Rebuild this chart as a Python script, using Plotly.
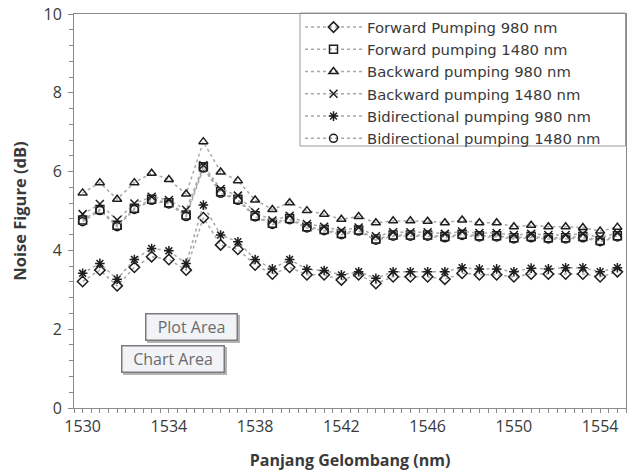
import plotly.graph_objects as go

# Wavelength grid (nm)
wavelength_nm = [1530.0, 1530.8, 1531.6, 1532.4, 1533.2, 1534.0, 1534.8, 1535.6,
                 1536.4, 1537.2, 1538.0, 1538.8, 1539.6, 1540.4, 1541.2, 1542.0,
                 1542.8, 1543.6, 1544.4, 1545.2, 1546.0, 1546.8, 1547.6, 1548.4,
                 1549.2, 1550.0, 1550.8, 1551.6, 1552.4, 1553.2, 1554.0, 1554.8]

# Noise figure (dB) per pumping configuration
fwd_980 = [3.21, 3.50, 3.10, 3.57, 3.84, 3.77, 3.50, 4.83, 4.14, 4.03, 3.63, 3.40,
           3.57, 3.38, 3.38, 3.25, 3.38, 3.16, 3.33, 3.33, 3.33, 3.27, 3.42, 3.38,
           3.38, 3.33, 3.40, 3.40, 3.40, 3.40, 3.33, 3.46]
fwd_1480 = [4.77, 5.04, 4.64, 5.07, 5.30, 5.21, 4.90, 6.12, 5.49, 5.30, 4.88, 4.69,
            4.81, 4.60, 4.53, 4.43, 4.52, 4.29, 4.39, 4.39, 4.39, 4.35, 4.41, 4.37,
            4.37, 4.32, 4.35, 4.32, 4.32, 4.35, 4.25, 4.37]
bwd_980 = [5.46, 5.72, 5.30, 5.72, 5.96, 5.80, 5.43, 6.76, 5.99, 5.77, 5.28, 5.04,
           5.21, 5.01, 4.92, 4.79, 4.86, 4.70, 4.75, 4.75, 4.74, 4.70, 4.77, 4.70,
           4.70, 4.60, 4.64, 4.60, 4.60, 4.58, 4.49, 4.59]
bwd_1480 = [4.92, 5.18, 4.77, 5.19, 5.36, 5.28, 5.03, 6.16, 5.56, 5.39, 4.97, 4.76,
            4.88, 4.67, 4.60, 4.50, 4.58, 4.36, 4.46, 4.46, 4.46, 4.42, 4.48, 4.44,
            4.44, 4.39, 4.42, 4.39, 4.39, 4.42, 4.32, 4.44]
bidir_980 = [3.42, 3.67, 3.27, 3.77, 4.05, 3.99, 3.67, 5.15, 4.39, 4.22, 3.77, 3.53,
             3.77, 3.52, 3.49, 3.38, 3.46, 3.29, 3.46, 3.46, 3.46, 3.46, 3.56, 3.53,
             3.53, 3.46, 3.55, 3.53, 3.56, 3.56, 3.46, 3.56]
bidir_1480 = [4.73, 5.01, 4.60, 5.04, 5.27, 5.18, 4.86, 6.09, 5.45, 5.27, 4.85, 4.66,
              4.78, 4.57, 4.50, 4.40, 4.49, 4.26, 4.36, 4.36, 4.36, 4.32, 4.38, 4.34,
              4.34, 4.29, 4.32, 4.29, 4.29, 4.32, 4.22, 4.34]

series_names = ["Forward Pumping 980 nm", "Forward pumping 1480 nm",
                "Backward pumping 980 nm", "Backward pumping 1480 nm",
                "Bidirectional pumping 980 nm", "Bidirectional pumping 1480 nm"]
series_values = [fwd_980, fwd_1480, bwd_980, bwd_1480, bidir_980, bidir_1480]
series_symbols = ["diamond-open", "square-open", "triangle-up-open",
                  "x-thin-open", "asterisk-open", "circle-open"]

x_ticks = [1530, 1534, 1538, 1542, 1546, 1550, 1554]
y_ticks = [0, 2, 4, 6, 8, 10]

FONT = "Open Sans"
LEGEND_FONT = "DejaVu Sans"
TEXT_COLOR = "#3a3a3a"
AXIS_COLOR = "#8a8a8a"

# Plot-area geometry (pixels) used to place the legend frame and labels
ML, MR, MT, MB = 74, 3, 14, 65
W, H = 629, 473
PW, PH = W - ML - MR, H - MT - MB


def px_to_paper_x(px):
    return (px - ML) / PW


def px_to_paper_y(py):
    return (H - MB - py) / PH


fig = go.Figure()
for name, vals, sym in zip(series_names, series_values, series_symbols):
    fig.add_trace(go.Scatter(
        x=wavelength_nm, y=vals, name=name, mode="lines+markers",
        line=dict(color="#a8a8a8", width=1.5, dash="dot"),
        marker=dict(symbol=sym, size=8, color="#1e1e1e",
                    line=dict(color="#1e1e1e", width=1.5)),
    ))

fig.update_layout(
    width=W, height=H,
    margin=dict(l=ML, r=MR, t=MT, b=MB),
    paper_bgcolor="white", plot_bgcolor="white",
    font=dict(family=FONT, color=TEXT_COLOR),
    showlegend=True,
    legend=dict(
        x=px_to_paper_x(300), y=px_to_paper_y(11),
        xanchor="left", yanchor="top",
        bgcolor="rgba(0,0,0,0)", borderwidth=0,
        font=dict(family=LEGEND_FONT, size=14.8, color=TEXT_COLOR),
        itemwidth=57, tracegroupgap=0,
    ),
)

# Legend frame
fig.add_shape(
    type="rect", xref="paper", yref="paper", layer="below",
    x0=px_to_paper_x(300), x1=px_to_paper_x(625.5),
    y0=px_to_paper_y(146), y1=px_to_paper_y(13),
    line=dict(color="#9a9a9a", width=1), fillcolor="white",
)

fig.update_xaxes(
    range=[1529.6, 1555.2],
    tickmode="array", tickvals=x_ticks, ticktext=[str(v) for v in x_ticks],
    ticks="outside", ticklen=4, tickcolor=AXIS_COLOR, tickwidth=1,
    minor=dict(dtick=0.4, tick0=1529.6, ticks="outside", ticklen=4,
               tickcolor=AXIS_COLOR, showgrid=False),
    showline=True, linecolor=AXIS_COLOR, linewidth=1, mirror=True,
    showgrid=False, zeroline=False,
    tickfont=dict(family=FONT, size=16, color=TEXT_COLOR),
    title=dict(text="<b>Panjang Gelombang (nm)</b>",
               font=dict(family=FONT, size=16, color=TEXT_COLOR), standoff=18),
)
fig.update_yaxes(
    range=[0, 10],
    tickmode="array", tickvals=y_ticks, ticktext=[str(v) for v in y_ticks],
    ticks="outside", ticklen=5, tickcolor=AXIS_COLOR, tickwidth=1,
    minor=dict(dtick=0.4, tick0=0, ticks="outside", ticklen=4,
               tickcolor=AXIS_COLOR, showgrid=False),
    showline=True, linecolor=AXIS_COLOR, linewidth=1, mirror=True,
    showgrid=False, zeroline=False,
    tickfont=dict(family=FONT, size=16, color=TEXT_COLOR),
    ticklabelstandoff=3,
    title=dict(text="<b>Noise Figure (dB)</b>",
               font=dict(family=FONT, size=16.5, color=TEXT_COLOR), standoff=12),
)

# Hover labels for the chart elements, each with a soft drop shadow
for text, cx, cy, bw in [("Plot Area", 191, 326.5, 84), ("Chart Area", 172.5, 358.5, 95)]:
    fig.add_annotation(
        text=" ", xref="paper", yref="paper",
        x=px_to_paper_x(cx), y=px_to_paper_y(cy), xshift=2, yshift=-2,
        xanchor="center", yanchor="middle", showarrow=False,
        width=bw, height=19, font=dict(family=FONT, size=16),
        bgcolor="#b4b4b4", bordercolor="#b4b4b4", borderwidth=1.5, borderpad=3,
    )
    fig.add_annotation(
        text=text, xref="paper", yref="paper",
        x=px_to_paper_x(cx), y=px_to_paper_y(cy),
        xanchor="center", yanchor="middle", showarrow=False,
        width=bw, height=19, font=dict(family=FONT, size=16, color="#6a6a6a"),
        bgcolor="#f2f3f7", bordercolor="#7a7a7a", borderwidth=1.5, borderpad=3,
    )

fig.write_html("out.html")
